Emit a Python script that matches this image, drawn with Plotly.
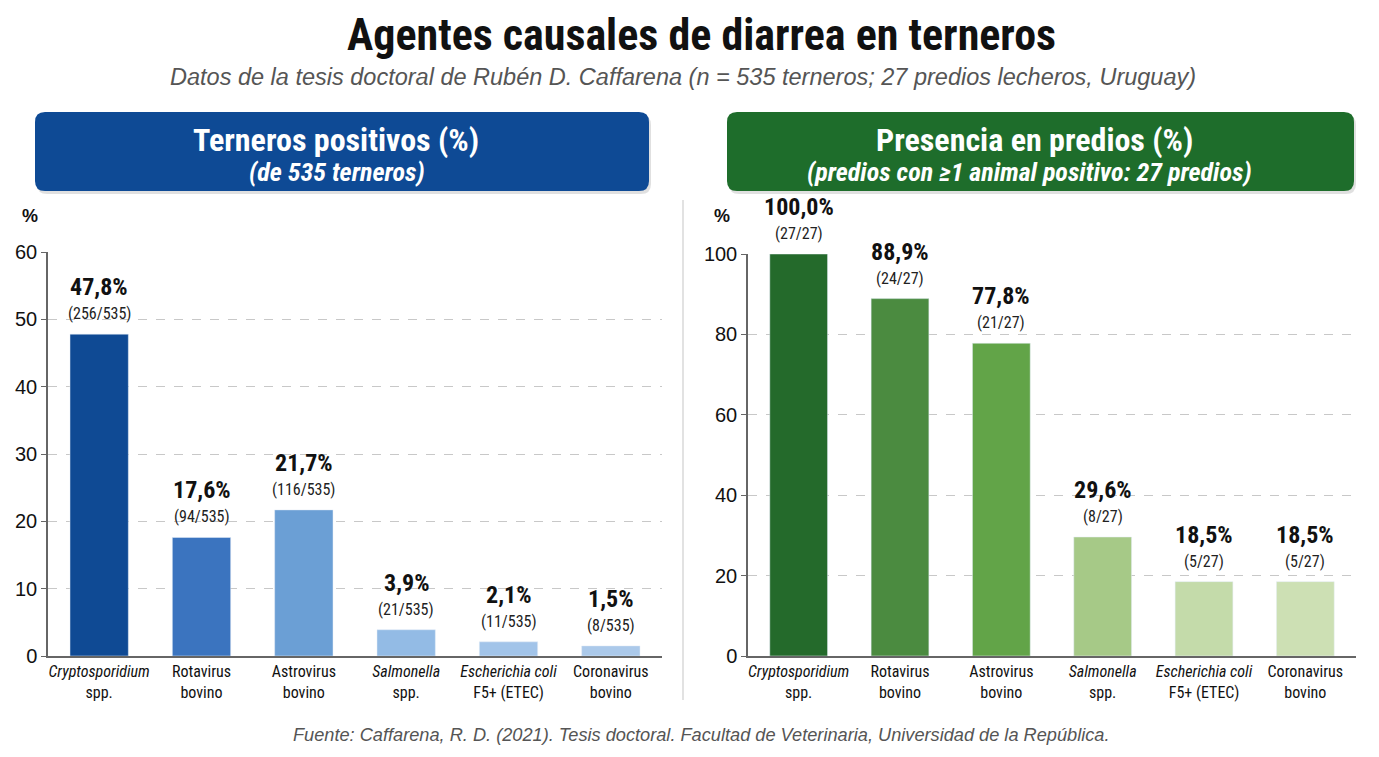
import plotly.graph_objects as go

W, H = 1379, 757

categories = ["<i>Cryptosporidium</i><br>spp.", "Rotavirus<br>bovino", "Astrovirus<br>bovino",
              "<i>Salmonella</i><br>spp.", "<i>Escherichia coli</i><br>F5+ (ETEC)", "Coronavirus<br>bovino"]
terneros_pct = [47.8, 17.6, 21.7, 3.9, 2.1, 1.5]
terneros_n = ["256/535", "94/535", "116/535", "21/535", "11/535", "8/535"]
predios_pct = [100.0, 88.9, 77.8, 29.6, 18.5, 18.5]
predios_n = ["27/27", "24/27", "21/27", "8/27", "5/27", "5/27"]

blue_colors = ["#0f4a94", "#3b74bf", "#6b9fd5", "#93bbe5", "#a2c4e9", "#abc9ea"]
green_colors = ["#246a2b", "#4b8b40", "#62a448", "#a6c987", "#c4dbaa", "#cde0b4"]

NARROW = "Liberation Sans Narrow, Roboto Condensed, Arial Narrow, sans-serif"
SANS = "Liberation Sans, Arial, sans-serif"


def px(x):
    return x / W


def py(y):
    return 1 - y / H


fig = go.Figure()
fig.add_trace(go.Bar(x=categories, y=terneros_pct, marker_color=blue_colors, width=0.57,
                     xaxis="x", yaxis="y", hoverinfo="skip"))
fig.add_trace(go.Bar(x=categories, y=predios_pct, marker_color=green_colors, width=0.57,
                     xaxis="x2", yaxis="y2", hoverinfo="skip"))

annotations = []


def fmt(v):
    return f"{v:.1f}".replace(".", ",") + "%"


for xr, yr, vals, ns in (("x", "y", terneros_pct, terneros_n), ("x2", "y2", predios_pct, predios_n)):
    for cat, v, n in zip(categories, vals, ns):
        annotations.append(dict(x=cat, y=v, xref=xr, yref=yr, text=f"<b>{fmt(v)}</b>", showarrow=False,
                                xanchor="center", yanchor="bottom", yshift=31,
                                font=dict(family=NARROW, size=24, color="#111")))
        annotations.append(dict(x=cat, y=v, xref=xr, yref=yr, text=f"({n})", showarrow=False,
                                xanchor="center", yanchor="bottom", yshift=9,
                                font=dict(family=NARROW, size=16, color="#222")))


def ptext(x, y, text, family, size, color):
    return dict(x=px(x), y=py(y), xref="paper", yref="paper", showarrow=False, text=text,
                xanchor="center", yanchor="middle", font=dict(family=family, size=size, color=color))


annotations += [
    ptext(701, 35, "<b>Agentes causales de diarrea en terneros</b>", NARROW, 44, "#111"),
    ptext(683, 77, "<i>Datos de la tesis doctoral de Rubén D. Caffarena (n = 535 terneros; 27 predios lecheros, Uruguay)</i>",
          SANS, 23.5, "#555"),
    ptext(701, 735, "<i>Fuente: Caffarena, R. D. (2021). Tesis doctoral. Facultad de Veterinaria, Universidad de la República.</i>",
          SANS, 18.2, "#555"),
    ptext(336, 140, "<b>Terneros positivos (%)</b>", NARROW, 32, "white"),
    ptext(337, 172, "<b><i>(de 535 terneros)</i></b>", NARROW, 26, "white"),
    ptext(1034, 140, "<b>Presencia en predios (%)</b>", NARROW, 32, "white"),
    ptext(1029, 172, "<b><i>(predios con ≥1 animal positivo: 27 predios)</i></b>", NARROW, 26, "white"),
    ptext(30, 216, "<b>%</b>", SANS, 18, "#111"),
    ptext(722, 216, "<b>%</b>", SANS, 18, "#111"),
]


def rounded_rect(x0, y0, x1, y1, r):
    X0, X1 = px(x0), px(x1)
    Y0, Y1 = py(y0), py(y1)
    rx, ry = r / W, r / H
    return (f"M {X0+rx},{Y0} L {X1-rx},{Y0} Q {X1},{Y0} {X1},{Y0-ry} "
            f"L {X1},{Y1+ry} Q {X1},{Y1} {X1-rx},{Y1} L {X0+rx},{Y1} "
            f"Q {X0},{Y1} {X0},{Y1+ry} L {X0},{Y0-ry} Q {X0},{Y0} {X0+rx},{Y0} Z")


shapes = [
    dict(type="path", xref="paper", yref="paper", path=rounded_rect(37, 115, 651, 194, 10),
         fillcolor="rgba(0,0,0,0.12)", line=dict(width=0), layer="below"),
    dict(type="path", xref="paper", yref="paper", path=rounded_rect(35, 112, 649, 191, 10),
         fillcolor="#0e4a95", line=dict(width=0), layer="below"),
    dict(type="path", xref="paper", yref="paper", path=rounded_rect(729, 115, 1356, 194, 10),
         fillcolor="rgba(0,0,0,0.12)", line=dict(width=0), layer="below"),
    dict(type="path", xref="paper", yref="paper", path=rounded_rect(727, 112, 1354, 191, 10),
         fillcolor="#1e6d2b", line=dict(width=0), layer="below"),
    dict(type="line", xref="paper", yref="paper", x0=px(683), x1=px(683), y0=py(200), y1=py(700),
         line=dict(color="#d8d8d8", width=1.5)),
]

axis_common = dict(showline=True, linecolor="#666", linewidth=1.5, ticks="outside", ticklen=5,
                   tickcolor="#666", tickfont=dict(family=SANS, size=20, color="#111"),
                   gridcolor="#c8c8c8", griddash="dash", gridwidth=1, zeroline=False,
                   fixedrange=True, automargin=False)
xaxis_common = dict(showline=True, linecolor="#666", linewidth=1.5, ticks="", showgrid=False,
                    tickfont=dict(family=NARROW, size=16, color="#111"), fixedrange=True,
                    automargin=False)

fig.update_layout(
    width=W, height=H,
    margin=dict(l=0, r=0, t=0, b=0, autoexpand=False),
    paper_bgcolor="white", plot_bgcolor="white",
    showlegend=False,
    xaxis=dict(domain=[px(48), px(662)], anchor="y", **xaxis_common),
    yaxis=dict(domain=[py(656), py(252)], range=[0, 60], dtick=10, anchor="x", **axis_common),
    xaxis2=dict(domain=[px(748), px(1356)], anchor="y2", **xaxis_common),
    yaxis2=dict(domain=[py(656), py(254)], range=[0, 100], dtick=20, anchor="x2", **axis_common),
    annotations=annotations,
    shapes=shapes,
)

fig.write_html("out.html")
